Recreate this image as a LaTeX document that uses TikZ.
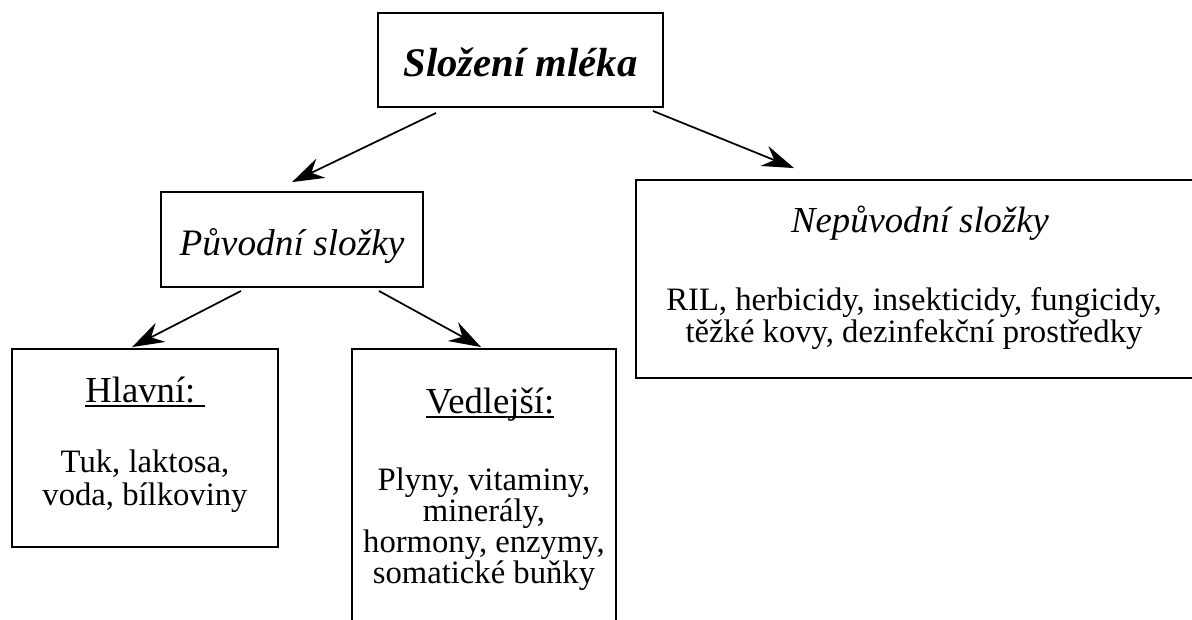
\documentclass[tikz,border=0pt]{standalone}
\usepackage{fontspec}
\setmainfont{Liberation Serif}
\usetikzlibrary{positioning,fit,arrows.meta}
\newcommand{\podtrzeni}[1]{\setbox0\hbox{#1}\rlap{\rule[-3.8pt]{\wd0}{1.4pt}}\box0}

\begin{document}
\begin{tikzpicture}[x=0.75pt,y=-0.75pt,
  box/.style={draw,line width=1.4pt,inner sep=0pt},
  sipka/.style={line width=1.3pt,-{Stealth[length=24pt,width=16pt,inset=8pt]}},
  telo/.style={anchor=base,inner sep=0pt,font=\fontsize{24.5}{24}\selectfont},
  nadpis/.style={anchor=base,inner sep=0pt,font=\fontsize{27.5}{28}\selectfont}]
  \useasboundingbox (0,0) rectangle (1192,619);
  \clip (0,0) rectangle (1192,619);

  % boxes
  \node[box,fit={(378,13) (663,107)}] (slozeni) {};
  \node[box,fit={(161,192) (423,287)}] (puvodni) {};
  \node[box,fit={(636,180) (1215,378)}] (nepuvodni) {};
  \node[box,fit={(12,349) (278,547)}] (hlavni) {};
  \node[box,fit={(352,349) (616,660)}] (vedlejsi) {};

  % headings
  \node[anchor=base,inner sep=0pt,font=\fontsize{30.5}{31}\selectfont\bfseries\itshape] (slozeni-txt) at (520.5,76) {Složení mléka};
  \node[nadpis,font=\fontsize{28}{28}\selectfont\itshape] (puvodni-txt) at (292,255) {Původní složky};
  \node[nadpis,font=\fontsize{27.5}{28}\selectfont\itshape] (nepuvodni-txt) at (920,232) {Nepůvodní složky};
  \node[nadpis] (hlavni-txt) at (145,402) {\podtrzeni{Hlavní:\ }};
  \node[nadpis] (vedlejsi-txt) at (490,413) {\podtrzeni{Vedlejší:}};

  % body lines
  \foreach \y/\txt in {310/{RIL, herbicidy, insekticidy, fungicidy,},342/{těžké kovy, dezinfekční prostředky}}{
    \node[telo] (nep-\y) at (914,\y) {\txt};
  }
  \foreach \y/\txt in {472/{Tuk, laktosa,},505/{voda, bílkoviny}}{
    \node[telo] (hl-\y) at (145,\y) {\txt};
  }
  \foreach \y/\txt in {490/{Plyny, vitaminy,},521/{minerály,},552/{hormony, enzymy,},583/{somatické buňky}}{
    \node[telo] (ved-\y) at (484,\y) {\txt};
  }

  % arrows
  \draw[sipka] ([shift={(59,5)}]slozeni.south west) -- ([shift={(132,-9)}]puvodni.north west);
  \draw[sipka] ([shift={(-11,3)}]slozeni.south east) -- ([shift={(159,-11)}]nepuvodni.north west);
  \draw[sipka] ([shift={(81,3)}]puvodni.south west) -- ([shift={(121,-1)}]hlavni.north west);
  \draw[sipka] ([shift={(-45,3)}]puvodni.south east) -- ([shift={(130,-1)}]vedlejsi.north west);
\end{tikzpicture}
\end{document}
